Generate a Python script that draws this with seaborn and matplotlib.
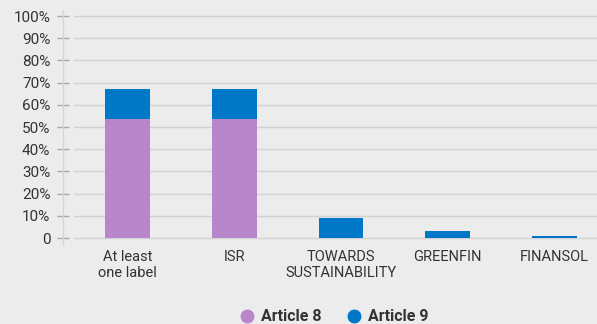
import matplotlib.pyplot as plt
import seaborn as sns
import pandas as pd
from matplotlib.ticker import FuncFormatter

labels = ["At least\none label", "ISR", "TOWARDS\nSUSTAINABILITY", "GREENFIN", "FINANSOL"]
article8 = [53.6, 53.6, 0.0, 0.0, 0.0]
article9 = [13.5, 13.5, 9.0, 3.2, 1.0]

df = pd.DataFrame({"label": labels, "Article 8": article8, "Article 9": article9})
df["total"] = df["Article 8"] + df["Article 9"]

purple = "#b886cb"
blue = "#0078c8"
bg = "#ececec"
text_col = "#333333"

sns.set_style("white")
plt.rcParams["font.family"] = ["Roboto", "DejaVu Sans"]

fig = plt.figure(figsize=(5.97, 3.24), dpi=100, facecolor=bg)
# pixel-based layout: x from 74 to 608, y 0% at 238, 100% at 16
ppu = 2.22
y_lo, y_hi = -3, 102.7
bottom_px = 238 + (-y_lo) * ppu
top_px = 16 - (y_hi - 100) * ppu
ax = fig.add_axes([74 / 597, 1 - bottom_px / 324, 534 / 597, (bottom_px - top_px) / 324])
ax.set_facecolor(bg)

# totals in blue, then Article 8 on top in purple -> stacked look
sns.barplot(data=df, x="label", y="total", color=blue, width=0.42, saturation=1,
            linewidth=0, ax=ax)
sns.barplot(data=df, x="label", y="Article 8", color=purple, width=0.42, saturation=1,
            linewidth=0, ax=ax)

ax.set_ylim(y_lo, y_hi)
ax.set_xlim(-0.5, 4.5)
ax.set_yticks(range(0, 101, 10))
ax.yaxis.set_major_formatter(FuncFormatter(lambda v, p: "0" if v == 0 else f"{v:.0f}%"))
ax.grid(axis="y", color="#d2d2d2", linewidth=1)
ax.set_axisbelow(True)

for s in ["top", "right", "bottom"]:
    ax.spines[s].set_visible(False)
ax.spines["left"].set_position(("outward", 8))
ax.spines["left"].set_color("#d6d6d6")
ax.spines["left"].set_linewidth(1)

ax.tick_params(axis="y", left=True, direction="inout", length=8, width=1, color="#a8a8a8",
               labelsize=11, labelcolor=text_col, pad=5)
ax.tick_params(axis="x", length=0, labelsize=10.5, labelcolor=text_col, pad=4)
ax.set_xlabel("")
ax.set_ylabel("")

handles = [
    plt.Line2D([], [], marker="o", linestyle="", markersize=9, color=purple),
    plt.Line2D([], [], marker="o", linestyle="", markersize=9, color=blue),
]
fig.legend(handles, ["Article 8", "Article 9"], loc="lower center", bbox_to_anchor=(0.56, -0.045),
           ncol=2, frameon=False, prop={"weight": "bold", "size": 11.5},
           labelcolor=text_col, handletextpad=0.4, columnspacing=1.6, handlelength=0.9)

fig.savefig("out.png", dpi=100, facecolor=bg)
